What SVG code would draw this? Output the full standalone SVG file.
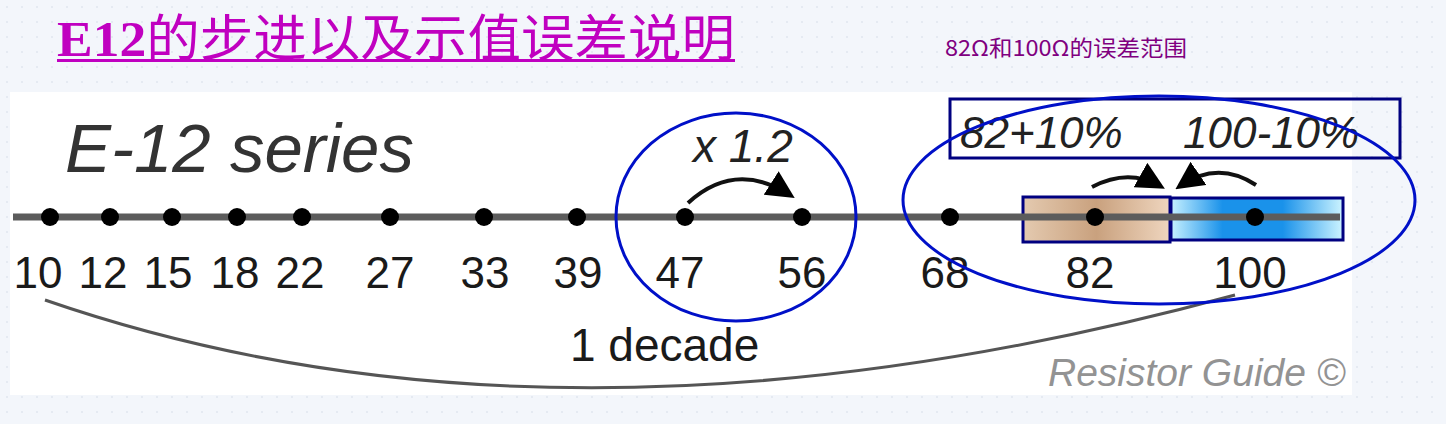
<svg xmlns="http://www.w3.org/2000/svg" width="1446" height="424" viewBox="0 0 1446 424">
<style>
.num{font-family:"Liberation Sans",Arial,sans-serif;font-size:44px;fill:#1a1a1a;text-anchor:middle}
.it{font-family:"Liberation Sans",Arial,sans-serif;font-style:italic;fill:#222}
.dot{fill:#000}
.ring{fill:none;stroke:#0010c8;stroke-width:3}
.box{stroke:#000080;stroke-width:3}
.arc{fill:none;stroke:#111;stroke-width:4}
</style>
<defs>
<pattern id="dots" width="15" height="15" patternUnits="userSpaceOnUse">
<rect width="15" height="15" fill="#f3f6fb"/>
<circle cx="7" cy="7" r="0.9" fill="#dfe5ee"/>
</pattern>
<linearGradient id="tan" x1="0" x2="1" y1="0" y2="0">
<stop offset="0" stop-color="#e4cab0"/>
<stop offset="0.5" stop-color="#c9a17e"/>
<stop offset="1" stop-color="#efd6bf"/>
</linearGradient>
<linearGradient id="blue" x1="0" x2="1" y1="0" y2="0">
<stop offset="0" stop-color="#c6f0ff"/>
<stop offset="0.3" stop-color="#1a92ea"/>
<stop offset="0.65" stop-color="#1a92ea"/>
<stop offset="1" stop-color="#cdf4ff"/>
</linearGradient>
<marker id="ah" viewBox="0 0 10 10" refX="8" refY="5" markerWidth="7" markerHeight="7" orient="auto" markerUnits="strokeWidth">
<path d="M0,0 L10,5 L0,10 z" fill="#000"/>
</marker>
</defs>
<rect width="1446" height="424" fill="url(#dots)"/>
<rect x="10" y="92" width="1342" height="303" fill="#ffffff"/>

<g id="title">
<text x="57" y="56" font-family="Liberation Serif,'Noto Sans CJK SC',serif" font-size="50" font-weight="bold" fill="#c000c0" textLength="678" lengthAdjust="spacingAndGlyphs">E12<tspan font-weight="normal">的步进以及示值误差说明</tspan></text>
<rect x="57" y="59" width="678" height="3" fill="#c000c0"/>
</g>
<g id="subtitle">
<text x="945" y="56" font-family="'Noto Sans CJK SC',sans-serif" font-size="22" fill="#800080" textLength="242" lengthAdjust="spacingAndGlyphs">82Ω和100Ω的误差范围</text>
</g>

<g id="series-label">
<text class="it" x="65" y="172" font-size="69" style="fill:#333">E-12 series</text>
</g>

<g id="tan-band"><rect class="box" x="1023" y="197" width="147" height="45" fill="url(#tan)"/></g>
<g id="blue-band"><rect class="box" x="1171" y="198" width="172" height="42" fill="url(#blue)"/></g>

<g id="axis"><line x1="13" y1="217" x2="1340" y2="217" stroke="#5c5c5c" stroke-width="7"/></g>

<g id="v10"><circle class="dot" cx="50" cy="217" r="9"/><text class="num" x="38" y="288">10</text></g>
<g id="v12"><circle class="dot" cx="110" cy="217" r="9"/><text class="num" x="103" y="288">12</text></g>
<g id="v15"><circle class="dot" cx="172" cy="217" r="9"/><text class="num" x="168" y="288">15</text></g>
<g id="v18"><circle class="dot" cx="237" cy="217" r="9"/><text class="num" x="235" y="288">18</text></g>
<g id="v22"><circle class="dot" cx="302" cy="217" r="9"/><text class="num" x="300" y="288">22</text></g>
<g id="v27"><circle class="dot" cx="390" cy="217" r="9"/><text class="num" x="390" y="288">27</text></g>
<g id="v33"><circle class="dot" cx="484" cy="217" r="9"/><text class="num" x="485" y="288">33</text></g>
<g id="v39"><circle class="dot" cx="577" cy="217" r="9"/><text class="num" x="578" y="288">39</text></g>
<g id="v47"><circle class="dot" cx="685" cy="217" r="9"/><text class="num" x="680" y="288">47</text></g>
<g id="v56"><circle class="dot" cx="802" cy="217" r="9"/><text class="num" x="802" y="288">56</text></g>
<g id="v68"><circle class="dot" cx="950" cy="217" r="9"/><text class="num" x="945" y="288">68</text></g>
<g id="v82"><circle class="dot" cx="1095" cy="217" r="9"/><text class="num" x="1090" y="288">82</text></g>
<g id="v100"><circle class="dot" cx="1255" cy="217" r="9"/><text class="num" x="1250" y="288">100</text></g>

<g id="ratio-label"><text class="it" x="693" y="162" font-size="46">x 1.2</text></g>

<g id="tolerance-box">
<rect class="box" x="950" y="99" width="450" height="59" fill="none"/>
<text class="it" x="960" y="148" font-size="44">82+10%</text>
<text class="it" x="1183" y="148" font-size="44">100-10%</text>
</g>

<g id="decade-label"><text x="570" y="361" font-family="Liberation Sans,Arial,sans-serif" font-size="46" fill="#1a1a1a">1 decade</text></g>
<g id="credit"><text x="1048" y="386" font-family="Liberation Sans,Arial,sans-serif" font-style="italic" font-size="39" fill="#939393">Resistor Guide ©</text></g>

<g id="connectors">
<path class="arc" d="M688,203 Q735,160 790,195" marker-end="url(#ah)"/>
<path class="arc" d="M1092,187 Q1128,168 1160,186" marker-end="url(#ah)"/>
<path class="arc" d="M1256,185 Q1218,160 1180,186" marker-end="url(#ah)"/>
<path d="M45,300 Q560,478 1235,295" fill="none" stroke="#555" stroke-width="3"/>
</g>

<g id="highlights">
<ellipse class="ring" cx="736" cy="217" rx="120" ry="104"/>
<ellipse class="ring" cx="1159" cy="200" rx="256" ry="104"/>
</g>
</svg>
